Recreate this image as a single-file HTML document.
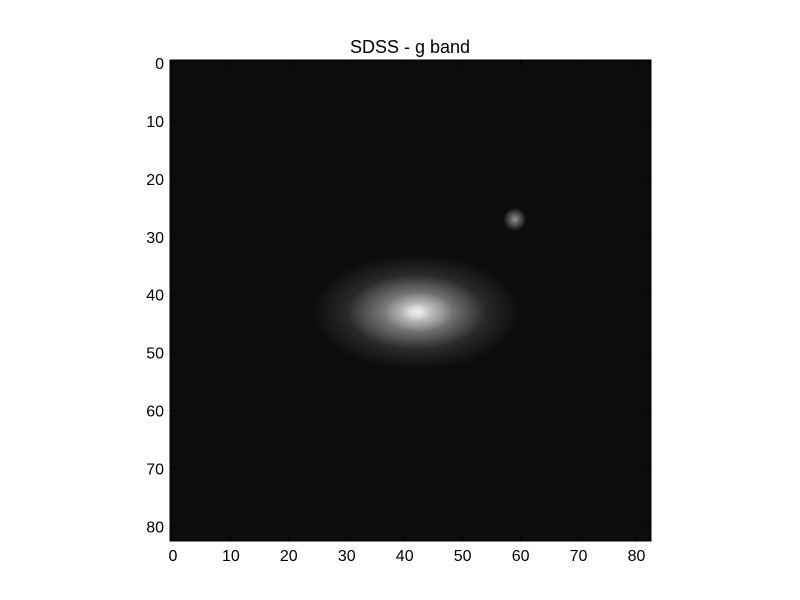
<!DOCTYPE html>
<html><head><meta charset="utf-8">
<style>
html,body{margin:0;padding:0;background:#fff;}
svg{display:block;font-family:"Liberation Sans","DejaVu Sans",sans-serif;}
</style></head>
<body>
<svg id="chart" width="800" height="600" viewBox="0 0 800 600">
<defs>
<radialGradient id="glow" cx="50%" cy="50%" r="50%">
<stop offset="0%" stop-color="#fff" stop-opacity="1"/>
<stop offset="45%" stop-color="#fff" stop-opacity="0.55"/>
<stop offset="100%" stop-color="#fff" stop-opacity="0"/>
</radialGradient>
<clipPath id="imgclip"><rect x="170" y="60" width="481" height="481"/></clipPath>
</defs>
<text x="410" y="53" text-anchor="middle" font-size="18" fill="#000">SDSS - g band</text>
<rect x="170" y="60" width="481" height="481" fill="#0c0c0c"/>
<g id="sources" clip-path="url(#imgclip)"></g>
<g id="ticks"></g>
<rect x="170" y="60" width="481" height="481" fill="none" stroke="#000" stroke-width="1"/>
</svg>
<script>
// Light sources (data coords): x center, y center, x radius, y radius, peak brightness (0-1)
const srcX = [42, 42, 42.5, 42, 59];
const srcY = [43, 43, 43, 43, 27];
const srcRX = [18, 12, 6, 2.5, 2];
const srcRY = [10, 6.5, 3.5, 1.6, 2];
const srcPeak = [0.35, 0.5, 0.55, 0.6, 0.55];
const tickValues = [0, 10, 20, 30, 40, 50, 60, 70, 80];
const tickLabels = ["0", "10", "20", "30", "40", "50", "60", "70", "80"];

const NS = "http://www.w3.org/2000/svg";
const x0 = 170, y0 = 60, size = 481, n = 83;
const sc = size / n;
function xs(v){ return x0 + (v + 0.5) * sc; }
function ys(v){ return y0 + (v + 0.5) * sc; }

const g = document.getElementById("sources");
for (let i = 0; i < srcX.length; i++) {
  const e = document.createElementNS(NS, "ellipse");
  e.setAttribute("cx", xs(srcX[i]));
  e.setAttribute("cy", ys(srcY[i]));
  e.setAttribute("rx", srcRX[i] * sc);
  e.setAttribute("ry", srcRY[i] * sc);
  e.setAttribute("fill", "url(#glow)");
  e.setAttribute("opacity", srcPeak[i]);
  
  
  g.appendChild(e);
}

const t = document.getElementById("ticks");
function line(x1, y1, x2, y2) {
  const l = document.createElementNS(NS, "line");
  l.setAttribute("x1", x1); l.setAttribute("y1", y1);
  l.setAttribute("x2", x2); l.setAttribute("y2", y2);
  l.setAttribute("stroke", "#000"); l.setAttribute("stroke-width", "1");
  
  
  t.appendChild(l);
}
function label(x, y, s, anchor) {
  const tx = document.createElementNS(NS, "text");
  tx.setAttribute("x", x); tx.setAttribute("y", y);
  tx.setAttribute("text-anchor", anchor);
  tx.setAttribute("font-size", "16");
  tx.textContent = s;
  
  
  t.appendChild(tx);
}
tickValues.forEach((v, i) => {
  const px = xs(v), py = ys(v);
  line(px, y0 + size, px, y0 + size - 5);
  line(px, y0, px, y0 + 5);
  line(x0, py, x0 + 5, py);
  line(x0 + size, py, x0 + size - 5, py);
  label(px, y0 + size + 20, tickLabels[i], "middle");
  label(x0 - 6, py + 6, tickLabels[i], "end");
});
</script>
</body></html>
